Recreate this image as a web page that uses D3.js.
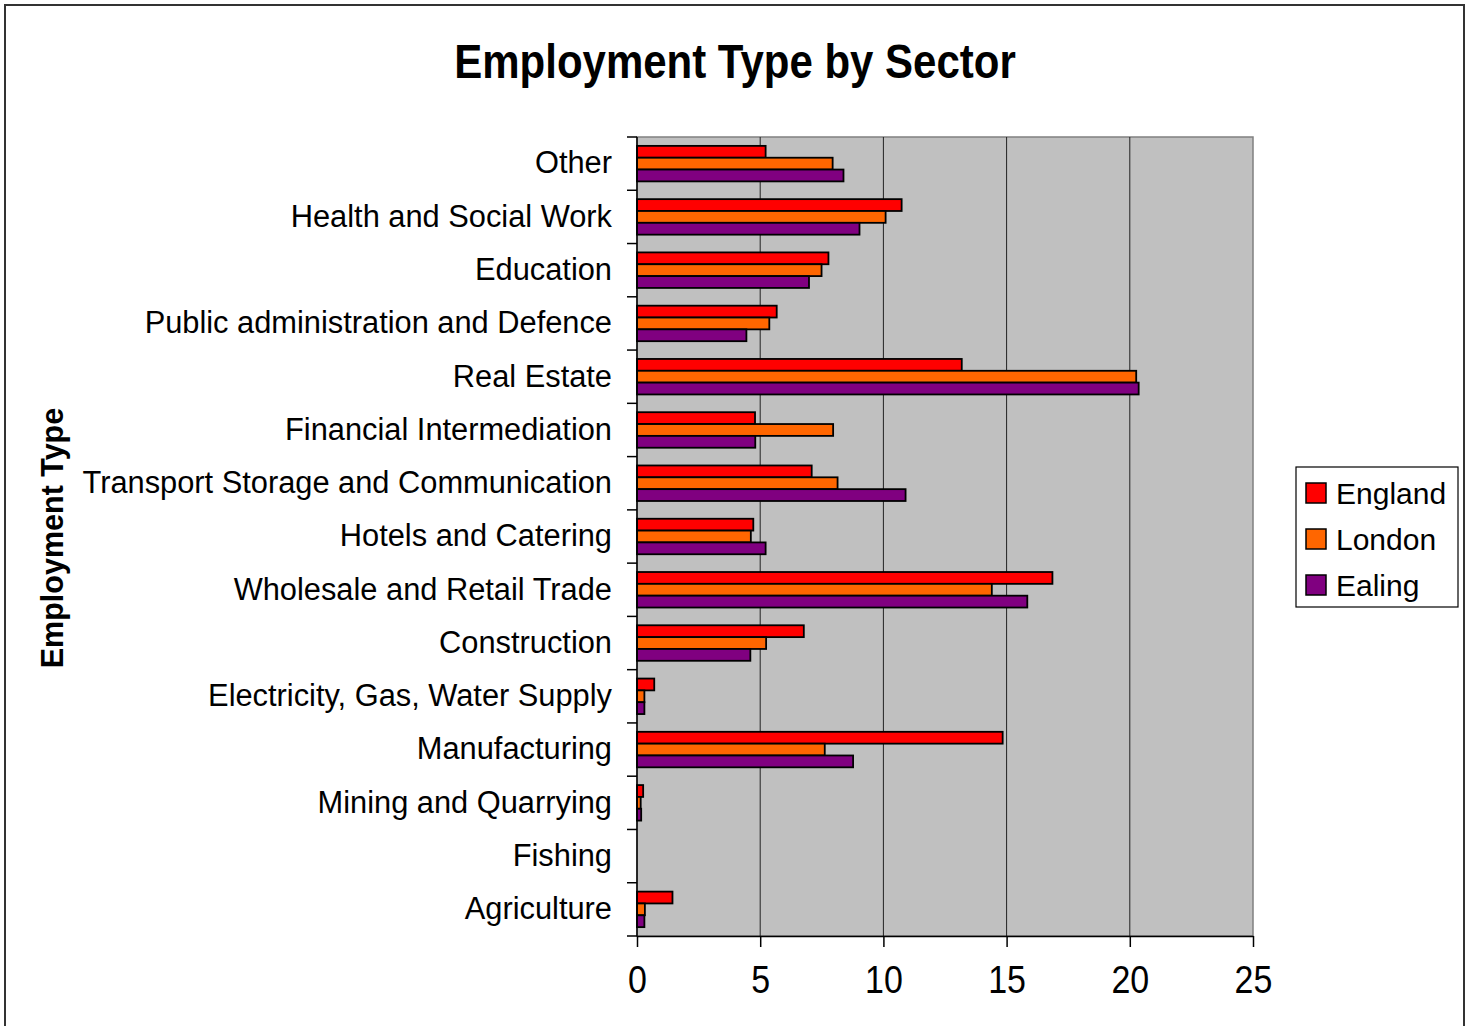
<!DOCTYPE html>
<html>
<head>
<meta charset="utf-8">
<script src="https://d3js.org/d3.v7.min.js"></script>
<style>
  body { margin: 0; background: #fff; }
  text { font-family: "Liberation Sans", Arial, sans-serif; fill: #000; }
</style>
</head>
<body>
<div id="chart"></div>
<script>
// data (percent of employment)
var categories = ["Other", "Health and Social Work", "Education", "Public administration and Defence",
  "Real Estate", "Financial Intermediation", "Transport Storage and Communication", "Hotels and Catering",
  "Wholesale and Retail Trade", "Construction", "Electricity, Gas, Water Supply", "Manufacturing",
  "Mining and Quarrying", "Fishing", "Agriculture"];
var seriesNames = ["England", "London", "Ealing"];
var england = [5.22, 10.74, 7.77, 5.67, 13.18, 4.79, 7.09, 4.72, 16.86, 6.77, 0.7, 14.84, 0.25, 0, 1.44];
var london  = [7.94, 10.09, 7.49, 5.37, 20.26, 7.96, 8.14, 4.62, 14.4, 5.24, 0.3, 7.62, 0.15, 0, 0.32];
var ealing  = [8.38, 9.03, 6.98, 4.44, 20.36, 4.8, 10.9, 5.22, 15.84, 4.6, 0.3, 8.77, 0.17, 0, 0.3];
var xTicks = [0, 5, 10, 15, 20, 25];

var colors = {England: "#ff0000", London: "#ff6600", Ealing: "#800080"};
var seriesValues = {England: england, London: london, Ealing: ealing};

var W = 1474, H = 1026;
var plot = {left: 637, right: 1253, top: 137, bottom: 936};

var svg = d3.select("#chart")
  .append("svg")
    .attr("width", W)
    .attr("height", H);

// outer chart border (bottom edge runs off the picture)
svg.append("rect")
    .attr("x", 5).attr("y", 5)
    .attr("width", 1459).attr("height", 1030)
    .attr("fill", "#fff")
    .attr("stroke", "#333")
    .attr("stroke-width", 2);

// scales
var x = d3.scaleLinear()
  .domain([0, 25])
  .range([plot.left, plot.right]);

var y = d3.scaleBand()
  .domain(categories)
  .range([plot.top, plot.bottom])
  .padding(0);

var ySub = d3.scaleBand()
  .domain(seriesNames)
  .range([0, y.bandwidth()])
  .paddingInner(0)
  .paddingOuter(0.75);

// plot background
svg.append("rect")
    .attr("x", plot.left).attr("y", plot.top)
    .attr("width", plot.right - plot.left)
    .attr("height", plot.bottom - plot.top)
    .attr("fill", "#c0c0c0")
    .attr("stroke", "#808080")
    .attr("stroke-width", 1.5);

// vertical gridlines
svg.append("g")
  .selectAll("line")
  .data(xTicks.filter(function(d) { return d > 0 && d < 25; }))
  .enter()
  .append("line")
    .attr("x1", function(d) { return x(d); })
    .attr("x2", function(d) { return x(d); })
    .attr("y1", plot.top)
    .attr("y2", plot.bottom)
    .attr("stroke", "#222")
    .attr("stroke-width", 1);

// bars
var rows = categories.map(function(c, i) {
  return {cat: c, values: seriesNames.map(function(s) { return {series: s, value: seriesValues[s][i]}; })};
});

var groups = svg.append("g")
  .selectAll("g")
  .data(rows)
  .enter()
  .append("g")
    .attr("transform", function(d) { return "translate(0," + y(d.cat) + ")"; });

groups.selectAll("rect")
  .data(function(d) { return d.values.filter(function(v) { return v.value > 0; }); })
  .enter()
  .append("rect")
    .attr("x", x(0))
    .attr("y", function(d) { return ySub(d.series); })
    .attr("width", function(d) { return x(d.value) - x(0); })
    .attr("height", ySub.bandwidth())
    .attr("fill", function(d) { return colors[d.series]; })
    .attr("stroke", "#000")
    .attr("stroke-width", 1.8);

// y axis labels
var yAxis = svg.append("g")
  .attr("transform", "translate(" + plot.left + ",0)")
  .call(d3.axisLeft(y).tickSize(0).tickPadding(25));
yAxis.select(".domain").remove();
yAxis.selectAll("text")
  .style("font-size", "30.8px")
  .style("font-family", "'Liberation Sans', Arial, sans-serif");

// y axis line and tick marks at band edges
svg.append("line")
    .attr("x1", plot.left).attr("x2", plot.left)
    .attr("y1", plot.top).attr("y2", plot.bottom)
    .attr("stroke", "#000").attr("stroke-width", 1.5);
svg.append("g")
  .selectAll("line")
  .data(categories.map(function(c) { return y(c); }).concat([plot.bottom]))
  .enter()
  .append("line")
    .attr("x1", plot.left - 10).attr("x2", plot.left)
    .attr("y1", function(d) { return d; })
    .attr("y2", function(d) { return d; })
    .attr("stroke", "#000").attr("stroke-width", 1.5);

// x axis
var xAxis = svg.append("g")
  .attr("transform", "translate(0," + plot.bottom + ")")
  .call(d3.axisBottom(x).tickValues(xTicks).tickSize(11).tickSizeOuter(0));
xAxis.select(".domain").attr("stroke", "#000").attr("stroke-width", 1.5);
xAxis.selectAll("line").attr("stroke", "#000").attr("stroke-width", 1.5);
xAxis.selectAll("text")
  .attr("y", 0).attr("dy", 0)
  .attr("transform", "translate(0,57) scale(1,1.12)")
  .style("font-size", "34px")
  .style("font-family", "'Liberation Sans', Arial, sans-serif");

// title
svg.append("text")
    .attr("text-anchor", "middle")
    .attr("transform", "translate(735,78) scale(1,1.15)")
    .style("font-size", "42px")
    .style("font-weight", "bold")
    .text("Employment Type by Sector");

// y axis title
svg.append("text")
    .attr("text-anchor", "middle")
    .attr("transform", "translate(63,538) rotate(-90)")
    .style("font-size", "30.5px")
    .style("font-weight", "bold")
    .text("Employment Type");

// legend
var legend = svg.append("g").attr("transform", "translate(1296,467)");
legend.append("rect")
    .attr("width", 162).attr("height", 140)
    .attr("fill", "#fff")
    .attr("stroke", "#000")
    .attr("stroke-width", 1.2);
var items = legend.selectAll(".item")
  .data(seriesNames)
  .enter()
  .append("g")
    .attr("class", "item")
    .attr("transform", function(d, i) { return "translate(10," + (16 + i * 46) + ")"; });
items.append("rect")
    .attr("width", 20).attr("height", 20)
    .attr("fill", function(d) { return colors[d]; })
    .attr("stroke", "#000")
    .attr("stroke-width", 1.5);
items.append("text")
    .attr("x", 30).attr("y", 21)
    .style("font-size", "30px")
    .text(function(d) { return d; });
</script>
</body>
</html>
